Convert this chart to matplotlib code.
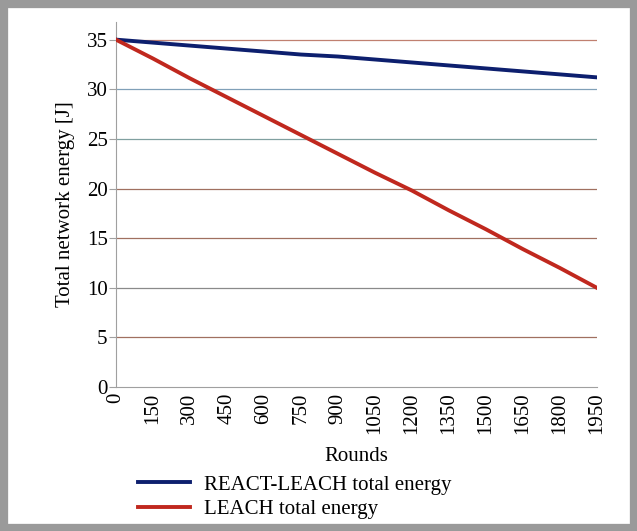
import matplotlib.pyplot as plt
from matplotlib.patches import Rectangle

rounds = [0, 150, 300, 450, 600, 750, 900, 1050, 1200, 1350, 1500, 1650, 1800, 1950]
react_leach = [35.0, 34.7, 34.4, 34.1, 33.8, 33.5, 33.3, 33.0, 32.7, 32.4, 32.1, 31.8, 31.5, 31.2]
leach = [35.0, 33.1, 31.1, 29.2, 27.3, 25.4, 23.5, 21.6, 19.8, 17.8, 15.9, 13.9, 12.0, 10.0]
yticks = [0, 5, 10, 15, 20, 25, 30, 35]
grid_colors = ["#8a8a8a", "#a07060", "#8a8a8a", "#a07060", "#a07060", "#80a0a0", "#80a0b8", "#c08070"]

plt.rcParams['font.family'] = ['Liberation Serif', 'DejaVu Serif']

fig = plt.figure(figsize=(6.37, 5.31), dpi=100)
fig.patches.append(Rectangle((0, 0), 1, 1, transform=fig.transFigure, fill=False,
                             edgecolor="#9a9a9a", linewidth=11))

ax = fig.add_axes([0.182, 0.271, 0.755, 0.688])
for y, c in zip(yticks, grid_colors):
    if y > 0:
        ax.axhline(y, color=c, linewidth=0.9, zorder=1)

ax.plot(rounds, react_leach, color="#0d1f6e", linewidth=2.8, label="REACT-LEACH total energy", zorder=3)
ax.plot(rounds, leach, color="#c0281e", linewidth=2.8, label="LEACH total energy", zorder=3)

ax.set_xlim(0, 1950)
ax.set_ylim(0, 36.8)
ax.set_xticks(rounds)
ax.set_xticklabels([str(r) for r in rounds], rotation=90)
ax.set_yticks(yticks)
ax.tick_params(labelsize=15)
ax.tick_params(axis="x", length=0, pad=4)
ax.tick_params(axis="y", length=5, color="#a0a0a0", pad=1)
for s in ["top", "right"]:
    ax.spines[s].set_visible(False)
ax.spines["left"].set_color("#a0a0a0")
ax.spines["bottom"].set_color("#a0a0a0")
ax.set_xlabel("Rounds", fontsize=15, labelpad=9)
ax.set_ylabel("Total network energy [J]", fontsize=15, labelpad=8)

fig.legend(loc="upper left", bbox_to_anchor=(0.2, 0.125), frameon=False, fontsize=15,
           handlelength=2.5, handletextpad=0.7, labelspacing=0.25, borderpad=0)

fig.savefig("out.png", dpi=100)
